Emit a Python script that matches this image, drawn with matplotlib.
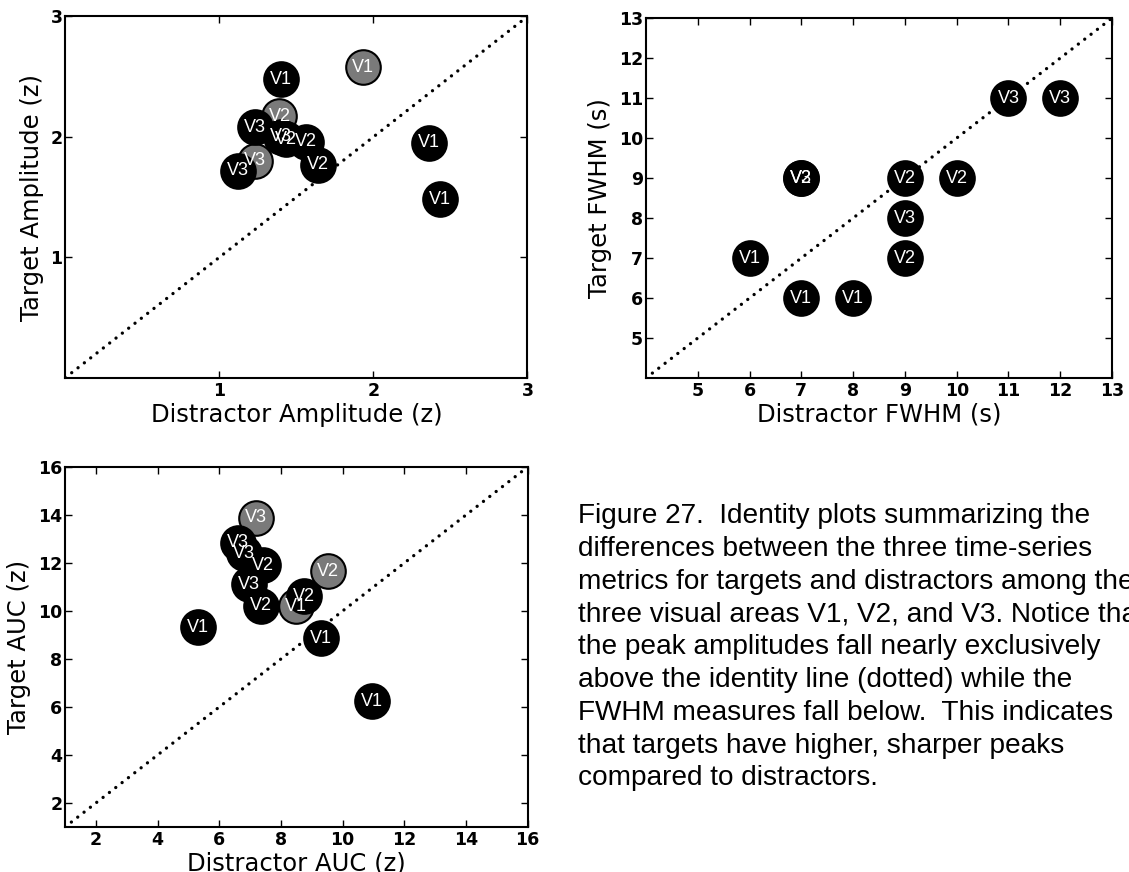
import matplotlib
matplotlib.use("Agg")
import matplotlib.pyplot as plt

# Peak amplitude (z): distractor vs target, one point per subject/area
amp_dist = [1.93, 1.39, 1.23, 1.40, 1.12, 1.23, 1.40, 1.43, 1.56, 1.64, 2.36, 2.43]
amp_targ = [2.58, 2.17, 1.80, 2.48, 1.72, 2.08, 2.00, 1.98, 1.96, 1.77, 1.95, 1.48]
amp_area = ["V1", "V2", "V3", "V1", "V3", "V3", "V3", "V2", "V2", "V2", "V1", "V1"]
amp_gray = [True, True, True, False, False, False, False, False, False, False, False, False]

# Full width at half maximum (s)
fwhm_dist = [11, 12, 7, 7, 9, 10, 9, 9, 6, 7, 8]
fwhm_targ = [11, 11, 9, 9, 9, 9, 8, 7, 7, 6, 6]
fwhm_area = ["V3", "V3", "V3", "V2", "V2", "V2", "V3", "V2", "V1", "V1", "V1"]
fwhm_gray = [False] * 11

# Area under the curve (z)
auc_dist = [7.19, 9.52, 8.49, 6.60, 6.81, 7.41, 6.96, 7.36, 8.76, 5.32, 9.30, 10.95]
auc_targ = [13.88, 11.66, 10.20, 12.84, 12.40, 11.90, 11.11, 10.23, 10.62, 9.33, 8.86, 6.25]
auc_area = ["V3", "V2", "V1", "V3", "V3", "V2", "V3", "V2", "V2", "V1", "V1", "V1"]
auc_gray = [True, True, True, False, False, False, False, False, False, False, False, False]

caption = [
    "Figure 27.  Identity plots summarizing the",
    "differences between the three time-series",
    "metrics for targets and distractors among the",
    "three visual areas V1, V2, and V3. Notice that",
    "the peak amplitudes fall nearly exclusively",
    "above the identity line (dotted) while the",
    "FWHM measures fall below.  This indicates",
    "that targets have higher, sharper peaks",
    "compared to distractors.",
]

plt.rcParams["font.family"] = "DejaVu Sans"


def identity_plot(ax, xs, ys, areas, gray, lim, ticks, xlabel, ylabel):
    ax.plot(lim, lim, color="black", lw=2.4, dashes=(0.01, 2.4),
            dash_capstyle="round", zorder=1)
    for x, y, g in zip(xs, ys, gray):
        ax.scatter(x, y, s=620, facecolor="#7a7a7a" if g else "black",
                   edgecolor="black", linewidth=1.5, zorder=2 if g else 3)
    for x, y, a in zip(xs, ys, areas):
        ax.text(x, y, a, color="white", ha="center", va="center",
                fontsize=13, family="Liberation Sans", zorder=4)
    ax.set_xlim(lim)
    ax.set_ylim(lim)
    ax.set_xticks(ticks)
    ax.set_yticks(ticks)
    ax.tick_params(direction="in", top=True, right=True, length=5, width=1,
                   labelsize=12.5)
    ax.tick_params(axis="x", pad=3)
    ax.tick_params(axis="y", pad=2)
    for lbl in ax.get_xticklabels() + ax.get_yticklabels():
        lbl.set_fontweight("bold")
    for sp in ax.spines.values():
        sp.set_linewidth(1.5)
    ax.set_xlabel(xlabel, fontsize=17.5, labelpad=2)
    ax.set_ylabel(ylabel, fontsize=17.5, labelpad=5)


fig = plt.figure(figsize=(11.29, 8.72), dpi=100)
ax1 = fig.add_axes([0.0579, 0.5669, 0.4093, 0.4142])
ax2 = fig.add_axes([0.5722, 0.5665, 0.4128, 0.4128])
ax3 = fig.add_axes([0.0576, 0.0516, 0.4097, 0.4128])

identity_plot(ax1, amp_dist, amp_targ, amp_area, amp_gray, (0, 3), [1, 2, 3],
              "Distractor Amplitude (z)", "Target Amplitude (z)")
identity_plot(ax2, fwhm_dist, fwhm_targ, fwhm_area, fwhm_gray, (4, 13),
              list(range(5, 14)), "Distractor FWHM (s)", "Target FWHM (s)")
identity_plot(ax3, auc_dist, auc_targ, auc_area, auc_gray, (1, 16),
              list(range(2, 17, 2)), "Distractor AUC (z)", "Target AUC (z)")

for i, line in enumerate(caption):
    fig.text(0.512, 0.4002 - i * 0.0376, line, fontsize=20.2,
             family="Liberation Sans", va="baseline", ha="left")

fig.savefig("out.png", dpi=100)
